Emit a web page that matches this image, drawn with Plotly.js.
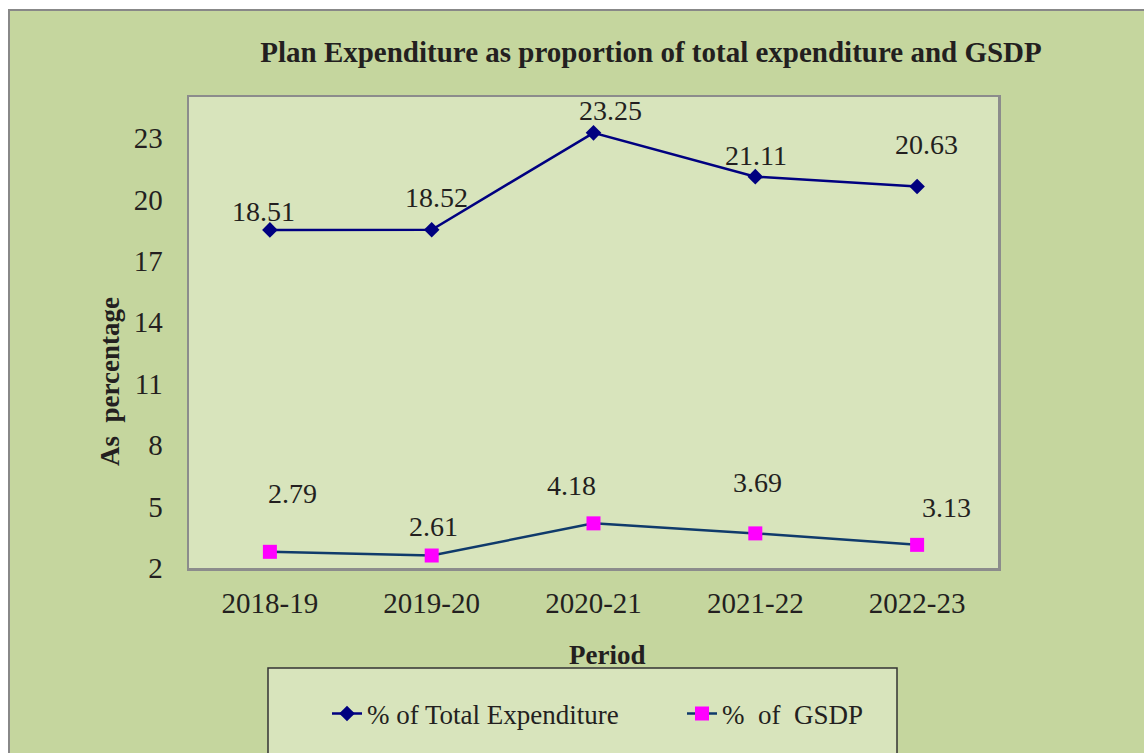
<!DOCTYPE html>
<html>
<head>
<meta charset="utf-8">
<script src="https://cdn.plot.ly/plotly-3.0.1.min.js"></script>
<style>
  html, body { margin: 0; padding: 0; background: #ffffff; width: 1144px; height: 753px; overflow: hidden; }
  #frame { position: absolute; left: 8px; top: 9px; width: 1150px; height: 760px;
           background: #c5d69e; border: 2px solid #888888; box-sizing: border-box; }
  #chart { position: absolute; left: 0; top: 0; width: 1144px; height: 753px; }
</style>
</head>
<body>
<div id="frame"></div>
<div id="chart"></div>
<script>
// ---- data ----
const periods = ["2018-19", "2019-20", "2020-21", "2021-22", "2022-23"];
const pctTotalExpenditure = [18.51, 18.52, 23.25, 21.11, 20.63];
const pctGSDP = [2.79, 2.61, 4.18, 3.69, 3.13];
const yTickVals = [2, 5, 8, 11, 14, 17, 20, 23];

// ---- label offsets (style, pixels) ----
const totalLabelDx = [-6, 5, 17, 1, 9];
const totalLabelDy = [18, 32, 22, 21, 42];
const gsdpLabelDx = [23, 2, -22, 2, 29];
const gsdpLabelDy = [58, 29, 38, 51, 37];

const serif = "Liberation Serif, Times New Roman, serif";
const textColor = "#231f20";

const traces = [
  {
    x: periods, y: pctTotalExpenditure, type: "scatter", mode: "lines+markers",
    name: "% of Total Expenditure",
    line: { color: "#000080", width: 2.5 },
    marker: { symbol: "diamond", size: 12, color: "#000080" }
  },
  {
    x: periods, y: pctGSDP, type: "scatter", mode: "lines+markers",
    name: "%  of  GSDP",
    line: { color: "#0f3a6b", width: 2.5 },
    marker: { symbol: "square", size: 14, color: "#ff00ff" }
  }
];

const annotations = [];
periods.forEach((p, i) => {
  annotations.push({ x: p, y: pctTotalExpenditure[i], xref: "x", yref: "y",
    text: pctTotalExpenditure[i].toFixed(2), showarrow: false,
    xshift: totalLabelDx[i], yshift: totalLabelDy[i],
    font: { family: serif, size: 28, color: textColor } });
  annotations.push({ x: p, y: pctGSDP[i], xref: "x", yref: "y",
    text: pctGSDP[i].toFixed(2), showarrow: false,
    xshift: gsdpLabelDx[i], yshift: gsdpLabelDy[i],
    font: { family: serif, size: 28, color: textColor } });
});
// axis titles
annotations.push({ text: "<b>As  percentage</b>", xref: "paper", yref: "paper",
  x: (110 - 189) / 809, y: (568 - 382) / 471, xanchor: "center", yanchor: "middle",
  showarrow: false, textangle: -90,
  font: { family: serif, size: 27, color: textColor } });
annotations.push({ text: "<b>Period</b>", xref: "paper", yref: "paper",
  x: (607 - 189) / 809, y: (568 - 655) / 471, xanchor: "center", yanchor: "middle",
  showarrow: false,
  font: { family: serif, size: 27, color: textColor } });

const layout = {
  width: 1144, height: 753,
  margin: { l: 189, r: 146, t: 97, b: 185 },
  paper_bgcolor: "rgba(0,0,0,0)",
  plot_bgcolor: "#d8e4bc",
  title: { text: "<b>Plan Expenditure as proportion of total expenditure and GSDP</b>",
    xref: "container", yref: "container", x: 651 / 1144, y: 1 - 52 / 753,
    xanchor: "center", yanchor: "middle",
    font: { family: serif, size: 29, color: textColor } },
  xaxis: {
    type: "category", range: [-0.5, 4.5], showgrid: false, zeroline: false,
    showline: true, mirror: true, linecolor: "#8c8c8c", linewidth: 2.5,
    ticks: "", tickfont: { family: serif, size: 29, color: textColor }, ticklabelstandoff: 8
  },
  yaxis: {
    range: [2, 25], tickvals: yTickVals, showgrid: false, zeroline: false,
    showline: true, mirror: true, linecolor: "#8c8c8c", linewidth: 2.5,
    ticks: "", tickfont: { family: serif, size: 29, color: textColor }, ticklabelstandoff: 18
  },
  showlegend: true,
  legend: {
    orientation: "h", x: (327 - 189) / 809, xanchor: "left",
    y: (568 - 714) / 471, yanchor: "middle",
    bgcolor: "rgba(0,0,0,0)", borderwidth: 0,
    entrywidth: 310, entrywidthmode: "pixels",
    font: { family: serif, size: 27, color: textColor }
  },
  shapes: [
    { type: "rect", xref: "paper", yref: "paper",
      x0: (268 - 189) / 809, x1: (897 - 189) / 809,
      y0: (568 - 770) / 471, y1: (568 - 668) / 471,
      fillcolor: "#d8e4bc", line: { color: "#333333", width: 1.5 }, layer: "below" }
  ],
  annotations: annotations
};

Plotly.newPlot("chart", traces, layout, { displayModeBar: false, staticPlot: true });
</script>
</body>
</html>
